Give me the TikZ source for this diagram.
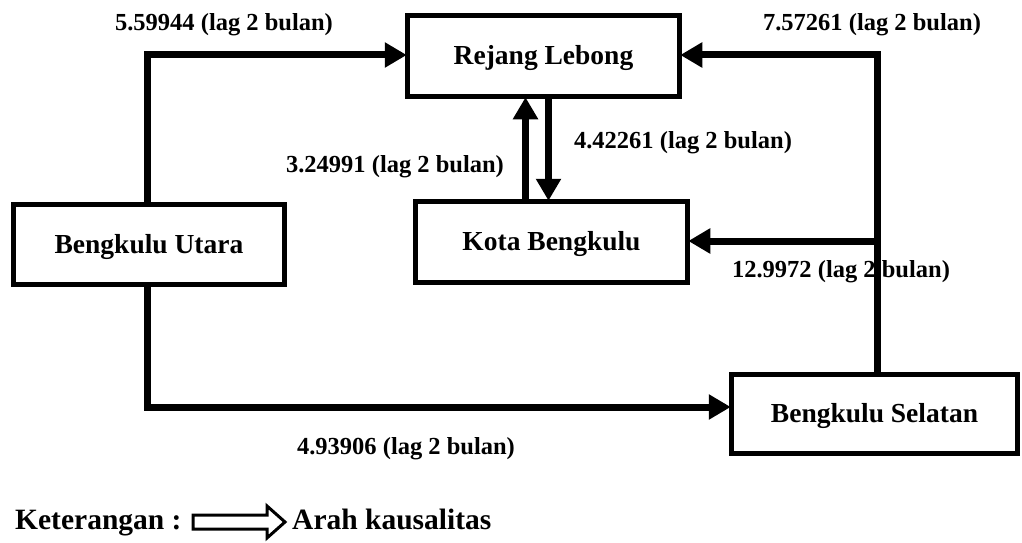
\documentclass[tikz,border=0pt]{standalone}
\usepackage{fontspec}
\setmainfont{Liberation Serif}
\usetikzlibrary{arrows.meta}
\begin{document}
\begin{tikzpicture}[x=1pt,y=-1pt,
  box/.style={draw,line width=5.5pt,rectangle,inner sep=0pt,text height=20pt,text depth=3pt,font=\fontsize{27.5}{32}\selectfont\bfseries},
  lab/.style={anchor=base,inner sep=0pt,font=\fontsize{24.5}{29}\selectfont\bfseries},
  leg/.style={anchor=base west,inner sep=0pt,font=\fontsize{29.5}{34}\selectfont\bfseries},
  arr/.style={line width=7pt,-{Triangle[length=22pt,width=24pt]},shorten >=-2pt}]
\useasboundingbox (0,0) rectangle (1022,543);
% boxes
\node[box,minimum width=272pt,minimum height=81pt] (RL) at (543.5,56) {Rejang Lebong};
\node[box,minimum width=271pt,minimum height=80pt] (BU) at (149,244.5) {Bengkulu Utara};
\node[box,minimum width=272pt,minimum height=81pt] (KB) at (551.5,242) {Kota Bengkulu};
\node[box,minimum width=286pt,minimum height=79pt] (BS) at (874.5,414) {Bengkulu Selatan};
% connectors
\draw[arr] ([xshift=-2pt]BU.north) |- ([yshift=1pt]RL.west);
\draw[arr] ([xshift=2.5pt]BS.north) |- ([yshift=1pt]RL.east);
\coordinate (kbstart) at ([xshift=6pt]BS.north |- KB.east);
\draw[arr] ([yshift=1pt]kbstart) -- ([yshift=1pt]KB.east);
\draw[arr] ([xshift=-26pt]KB.north) -- ([xshift=-26pt]KB.north |- RL.south);
\draw[arr] ([xshift=5pt]RL.south) -- ([xshift=5pt]RL.south |- KB.north);
\draw[arr] ([xshift=-2pt]BU.south) |- ([yshift=7pt]BS.west);
% labels
\node[lab] (l1) at (224,31) {5.59944 (lag 2 bulan)};
\node[lab] (l2) at (872,31) {7.57261 (lag 2 bulan)};
\node[lab] (l3) at (395,172) {3.24991 (lag 2 bulan)};
\node[lab] (l4) at (683,148) {4.42261 (lag 2 bulan)};
\node[lab] (l5) at (841,277) {12.9972 (lag 2 bulan)};
\node[lab] (l6) at (406,454) {4.93906 (lag 2 bulan)};
% legend
\node[leg] (ket) at (15,529) {Keterangan :};
\draw[line width=3pt,line join=miter] (193,515) -- (267,515) -- (267,506) -- (285,522) -- (267,538) -- (267,529) -- (193,529) -- cycle;
\node[leg] (arah) at (292,529) {Arah kausalitas};
\end{tikzpicture}
\end{document}
